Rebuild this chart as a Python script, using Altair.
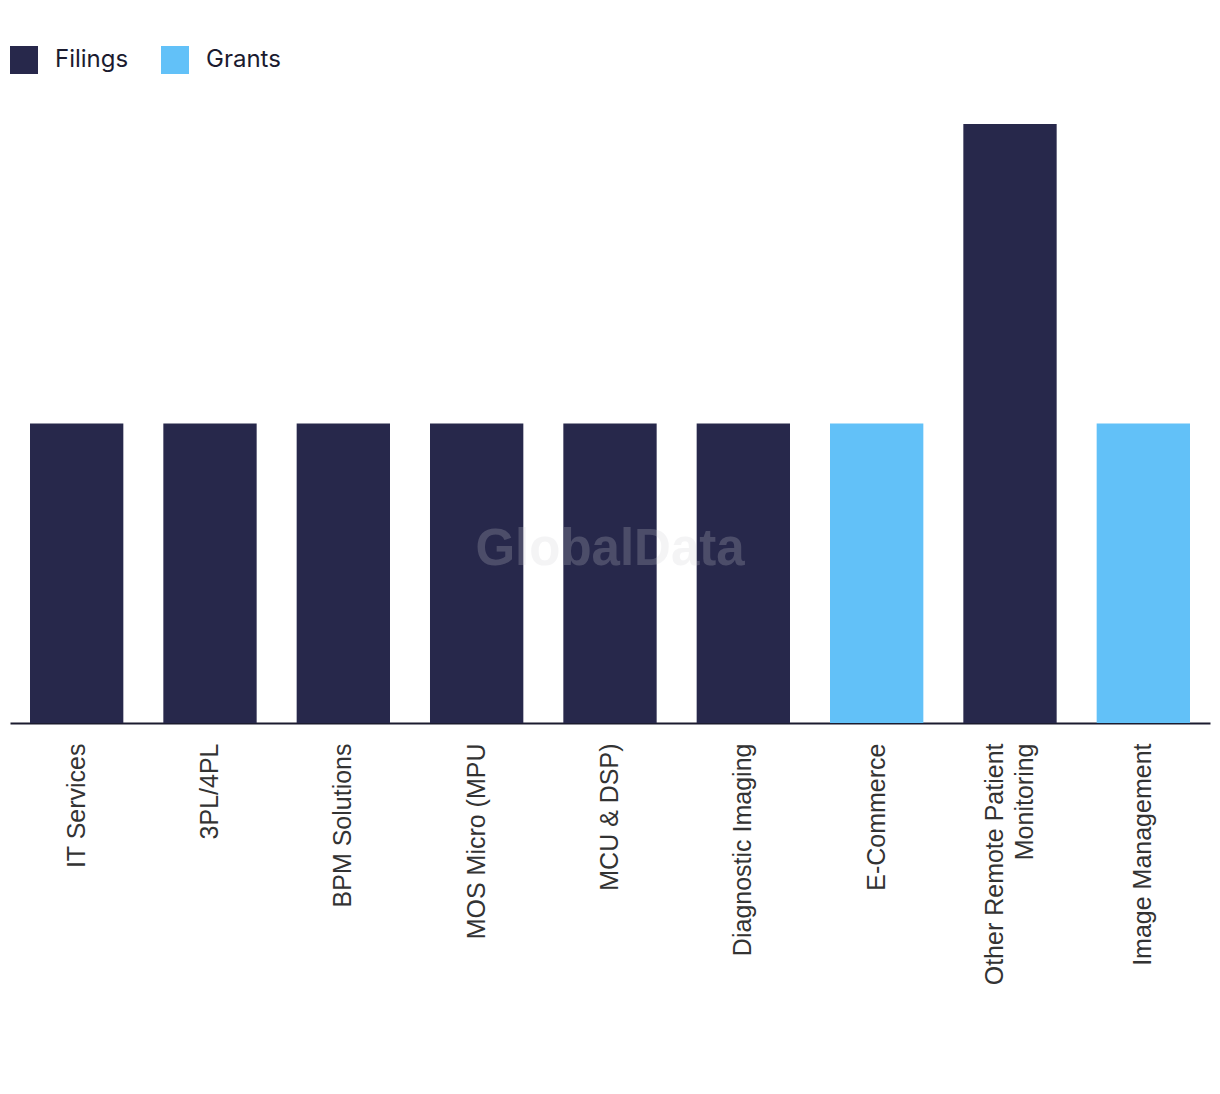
import altair as alt
import pandas as pd

categories = ["IT Services", "3PL/4PL", "BPM Solutions", "MOS Micro (MPU", "MCU & DSP)",
              "Diagnostic Imaging", "E-Commerce", "Other Remote Patient Monitoring", "Image Management"]
values = [1, 1, 1, 1, 1, 1, 1, 2, 1]
types = ["Filings", "Filings", "Filings", "Filings", "Filings", "Filings", "Grants", "Filings", "Grants"]

df = pd.DataFrame({"category": categories, "value": values, "type": types})

wrapped = "Other Remote Patient Monitoring"
label_expr = (f"datum.value == '{wrapped}' ? "
              "['Other Remote Patient', 'Monitoring'] : datum.value")

bars = alt.Chart(df).mark_bar().encode(
    x=alt.X("category:N", sort=categories, title=None,
            scale=alt.Scale(paddingInner=0.3, paddingOuter=0.15),
            axis=alt.Axis(labelAngle=-90, labelAlign="right", labelBaseline="middle",
                          labelFont="Liberation Sans", labelFontSize=25, labelColor="#333333",
                          labelPadding=20, ticks=False, domainColor="#1b1b2f", domainWidth=2,
                          labelExpr=label_expr, labelLimit=400, labelLineHeight=30,
                          labelOffset=alt.condition(f"datum.value == '{wrapped}'",
                                                    alt.value(-15), alt.value(0)))),
    y=alt.Y("value:Q", title=None, axis=None, scale=alt.Scale(domain=[0, 2], nice=False)),
    color=alt.Color("type:N", title=None,
                    scale=alt.Scale(domain=["Filings", "Grants"], range=["#27284b", "#62c1f8"]),
                    legend=alt.Legend(orient="none", legendX=0, legendY=-78, direction="horizontal",
                                      symbolType="square", symbolSize=784, symbolStrokeWidth=0,
                                      labelFont="Inter", labelFontSize=24, labelColor="#1b1b2f",
                                      labelOffset=17, columnPadding=32)),
)

watermark = alt.Chart(pd.DataFrame({"t": ["GlobalData"]})).mark_text(
    font="Liberation Sans", fontWeight="bold", fontSize=51, color="#cfcfd6", opacity=0.22
).encode(x=alt.value(600), y=alt.value(426), text="t:N")

chart = alt.layer(bars, watermark).properties(
    width=1200, height=599,
    padding={"left": 2, "top": 116, "right": 2, "bottom": 300},
    autosize=alt.AutoSizeParams(type="none"),
).configure_view(stroke=None)

chart.save("out.html", embed_options={"renderer": "svg", "actions": False})
